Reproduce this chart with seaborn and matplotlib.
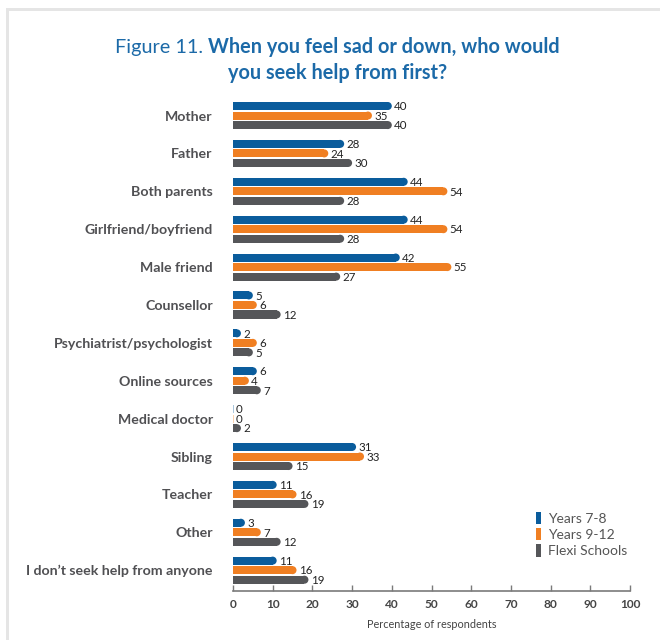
import matplotlib
matplotlib.use("Agg")
import matplotlib.pyplot as plt
from matplotlib.patches import Ellipse, Rectangle, Patch
import seaborn as sns
import pandas as pd

# ---- data -------------------------------------------------------------
categories = [
    "Mother", "Father", "Both parents", "Girlfriend/boyfriend", "Male friend",
    "Counsellor", "Psychiatrist/psychologist", "Online sources", "Medical doctor",
    "Sibling", "Teacher", "Other", "I don\u2019t seek help from anyone",
]
groups = ["Years 7-8", "Years 9-12", "Flexi Schools"]
years_7_8 = [40, 28, 44, 44, 42, 5, 2, 6, 0, 31, 11, 3, 11]
years_9_12 = [35, 24, 54, 54, 55, 6, 6, 4, 0, 33, 16, 7, 16]
flexi_schools = [40, 30, 28, 28, 27, 12, 5, 7, 2, 15, 19, 12, 19]
x_ticks = [0, 10, 20, 30, 40, 50, 60, 70, 80, 90, 100]

colors = ["#0a5c9c", "#f07f22", "#555659"]
title_blue = "#1c6aa8"
label_grey = "#505053"

df = pd.DataFrame({
    "category": categories * 3,
    "group": [g for g in groups for _ in categories],
    "value": years_7_8 + years_9_12 + flexi_schools,
})

# ---- figure -----------------------------------------------------------
sns.set_theme(style="white")
plt.rcParams["font.family"] = ["Lato", "DejaVu Sans"]

W, H = 660, 640
fig = plt.figure(figsize=(W / 100, H / 100), dpi=100)
fig.patch.set_facecolor("white")

# panel frame strips (top and left)
fig.add_artist(Rectangle((6 / W, 0), 3 / W, 1 - 8 / H, transform=fig.transFigure,
                         facecolor="#e5e5e5", edgecolor="none"))
fig.add_artist(Rectangle((6 / W, 1 - 11 / H), 1 - 6 / W, 3 / H, transform=fig.transFigure,
                         facecolor="#e5e5e5", edgecolor="none"))

left, right, top, bottom = 233, 630, 96.6, 591
ax = fig.add_axes([left / W, 1 - bottom / H, (right - left) / W, (bottom - top) / H])

sns.barplot(data=df, y="category", x="value", hue="group", order=categories,
            hue_order=groups, palette=colors, orient="h", width=0.755, gap=0.16,
            saturation=1, ax=ax, legend=False, linewidth=0)

ax.set_xlim(0, 100)
ax.set_ylim(12.55, -0.5)

# rounded right ends for bars plus value labels
px_per_x = (right - left) / 100.0
px_per_y = (bottom - top) / 13.05
for p in list(ax.patches):
    x0, y0 = p.get_x(), p.get_y()
    w, h = p.get_width(), p.get_height()
    yc = y0 + h / 2
    fc = p.get_facecolor()
    rx = (h * px_per_y / 2) / px_per_x
    label = f"{int(round(w))}"
    if w <= 0:
        p.set_width(0.25)
        p.set_alpha(0.35)
    elif w > rx:
        p.set_width(w - rx)
        ax.add_patch(Ellipse((x0 + w - rx, yc), 2 * rx, h, facecolor=fc,
                             edgecolor="none"))
    else:
        ax.add_patch(Ellipse((x0 + w / 2, yc), w, h, facecolor=fc, edgecolor="none"))
    ax.text(w + 0.6, yc + 0.02, label, va="center", ha="left", fontsize=8.3,
            color="#222222")

# axes styling
for s in ["top", "right", "left"]:
    ax.spines[s].set_visible(False)
ax.spines["bottom"].set_color("#7a7a7a")
ax.spines["bottom"].set_linewidth(1.2)
ax.set_xticks(x_ticks)
ax.set_xticklabels([str(v) for v in x_ticks], fontsize=8.6, fontweight="bold",
                   color="#454545")
ax.tick_params(axis="x", direction="in", length=4, width=1, color="#7a7a7a", pad=6,
               bottom=True)
ax.tick_params(axis="y", length=0, pad=14.5)
ax.set_yticks(range(len(categories)))
ax.set_yticklabels(categories, fontsize=10.2, fontweight="bold", color=label_grey)
ax.set_ylabel("")
ax.set_xlabel("Percentage of respondents", fontsize=7.8, color="#444444", labelpad=6)
ax.set_facecolor("white")

# legend
handles = [Patch(facecolor=c, edgecolor="none", label=g) for c, g in zip(colors, groups)]
leg = fig.legend(handles=handles, loc="upper left",
                 bbox_to_anchor=(530 / W, 1 - 506 / H), frameon=False,
                 fontsize=10, handlelength=0.4, handleheight=1.0, handletextpad=0.5,
                 labelspacing=0.25, borderaxespad=0)
for t in leg.get_texts():
    t.set_color("#555555")

# title: regular prefix + bold question, centred
fig.canvas.draw()
renderer = fig.canvas.get_renderer()
cx = 337.5 / W
y1 = 1 - 47 / H
y2 = 1 - 73 / H
t_a = fig.text(0, y1, "Figure 11. ", fontsize=14.3, color=title_blue, va="center",
               ha="left", fontweight="normal")
t_b = fig.text(0, y1, "When you feel sad or down, who would", fontsize=14.3,
               color=title_blue, va="center", ha="left", fontweight="bold")
wa = t_a.get_window_extent(renderer).width / W
wb = t_b.get_window_extent(renderer).width / W
start = cx - (wa + wb) / 2
t_a.set_x(start)
t_b.set_x(start + wa)
fig.text(cx, y2, "you seek help from first?", fontsize=14.3, color=title_blue,
         va="center", ha="center", fontweight="bold")

fig.savefig("out.png", dpi=100, facecolor="white")
